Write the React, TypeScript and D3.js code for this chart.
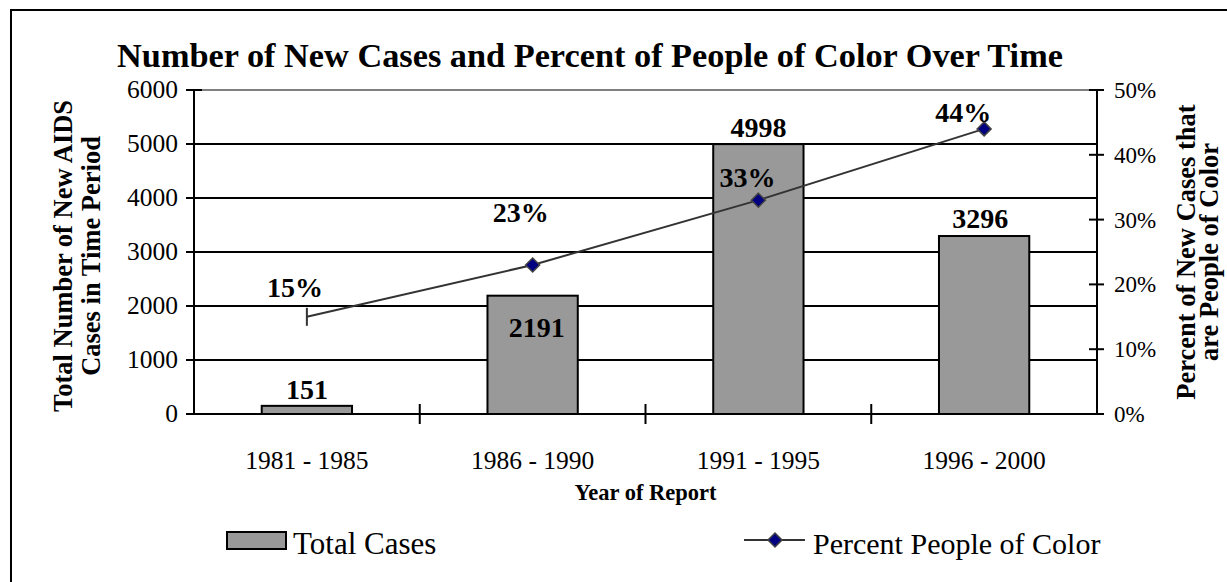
import React from "react";
import * as d3 from "d3";

// Reporting periods and the two series plotted against them
const periods = ["1981 - 1985", "1986 - 1990", "1991 - 1995", "1996 - 2000"];
const totalCases = [151, 2191, 4998, 3296];
const percentPOC = [0.15, 0.23, 0.33, 0.44];

// Axis ticks
const caseTicks = [0, 1000, 2000, 3000, 4000, 5000, 6000];
const pctTicks = [0, 0.1, 0.2, 0.3, 0.4, 0.5];

// Data-label placement relative to each mark (dx, dy)
const caseLabelOffsets: [number, number][] = [[0, -7], [4, 41], [0, -7], [-4, -8]];
const pctLabelOffsets: [number, number][] = [[-12, -20], [-12, -43], [-11, -13], [-21, -7]];

const W = 1227;
const H = 582;
const serif = "'Liberation Serif', 'Times New Roman', serif";

export default function App() {
  const left = 194;
  const right = 1097;
  const top = 90;
  const bottom = 414;

  const x = d3.scaleBand<string>().domain(periods).range([left, right]).padding(0);
  const yL = d3.scaleLinear().domain([0, 6000]).range([bottom, top]);
  const yR = d3.scaleLinear().domain([0, 0.5]).range([bottom, top]);
  const barW = x.bandwidth() * 0.4;
  const cx = (p: string) => (x(p) as number) + x.bandwidth() / 2;

  const line = d3
    .line<number>()
    .x((_, i) => cx(periods[i]))
    .y((d) => yR(d));

  const diamond = (px: number, py: number, r = 7) =>
    `M${px},${py - r}L${px + r},${py}L${px},${py + r}L${px - r},${py}Z`;

  const boundaries = periods.slice(1).map((p) => x(p) as number);
  const midY = (top + bottom) / 2;

  return (
    <svg
      width={W}
      height={H}
      style={{ position: "absolute", left: 0, top: 0, background: "#fff" }}
      fontFamily={serif}
    >
      {/* chart frame */}
      <rect x={11} y={10} width={1400} height={800} fill="none" stroke="#000" strokeWidth={2} />

      <text x={590} y={67} textAnchor="middle" fontSize={34.3} fontWeight="bold">
        Number of New Cases and Percent of People of Color Over Time
      </text>

      {/* horizontal gridlines */}
      {caseTicks.map((t) => (
        <line
          key={"g" + t}
          x1={left}
          x2={right}
          y1={yL(t)}
          y2={yL(t)}
          stroke={t === 6000 ? "#808080" : "#000"}
          strokeWidth={2}
        />
      ))}

      {/* bars */}
      {periods.map((p, i) => (
        <rect
          key={"b" + p}
          x={cx(p) - barW / 2}
          y={yL(totalCases[i])}
          width={barW}
          height={bottom - yL(totalCases[i])}
          fill="#999999"
          stroke="#000"
          strokeWidth={2}
        />
      ))}

      {/* left axis */}
      <line x1={left} x2={left} y1={top} y2={bottom + 1} stroke="#000" strokeWidth={2} />
      {caseTicks.map((t) => (
        <g key={"lt" + t}>
          <line x1={left - 8} x2={left + 8} y1={yL(t)} y2={yL(t)} stroke="#000" strokeWidth={2} />
          <text x={178} y={yL(t) + 8} textAnchor="end" fontSize={25.5}>
            {t}
          </text>
        </g>
      ))}

      {/* right axis */}
      <line x1={right} x2={right} y1={top} y2={bottom + 1} stroke="#000" strokeWidth={2} />
      {pctTicks.map((t) => (
        <g key={"rt" + t}>
          <line x1={right - 8} x2={right + 7} y1={yR(t)} y2={yR(t)} stroke="#000" strokeWidth={2} />
          <text x={right + 17} y={yR(t) + 8} textAnchor="start" fontSize={23}>
            {d3.format(".0%")(t)}
          </text>
        </g>
      ))}

      {/* category boundary ticks */}
      {boundaries.map((bx) => (
        <line key={"ct" + bx} x1={bx} x2={bx} y1={bottom - 10} y2={bottom + 10} stroke="#000" strokeWidth={2} />
      ))}
      <line x1={left - 8} x2={right} y1={bottom} y2={bottom} stroke="#000" strokeWidth={2} />

      {/* category labels */}
      {periods.map((p) => (
        <text key={"cl" + p} x={cx(p)} y={469} textAnchor="middle" fontSize={25.5}>
          {p}
        </text>
      ))}
      <text x={(left + right) / 2} y={500} textAnchor="middle" fontSize={22.5} fontWeight="bold">
        Year of Report
      </text>

      {/* axis titles */}
      <text
        transform={`translate(72,${midY + 4}) rotate(-90)`}
        textAnchor="middle"
        fontSize={26.5}
        fontWeight="bold"
      >
        Total Number of New AIDS
      </text>
      <text
        transform={`translate(100,${midY + 4}) rotate(-90)`}
        textAnchor="middle"
        fontSize={26.5}
        fontWeight="bold"
      >
        Cases in Time Period
      </text>
      <text
        transform={`translate(1195,${midY}) rotate(-90)`}
        textAnchor="middle"
        fontSize={26.5}
        fontWeight="bold"
      >
        Percent of New Cases that
      </text>
      <text
        transform={`translate(1218,${midY}) rotate(-90)`}
        textAnchor="middle"
        fontSize={26.5}
        fontWeight="bold"
      >
        are People of Color
      </text>

      {/* percent line */}
      <path d={line(percentPOC) || ""} fill="none" stroke="#333333" strokeWidth={2} />
      {percentPOC.map((v, i) =>
        i === 0 ? (
          <line
            key={"m" + i}
            x1={cx(periods[i])}
            x2={cx(periods[i])}
            y1={yR(v) - 9}
            y2={yR(v) + 9}
            stroke="#333333"
            strokeWidth={2}
          />
        ) : (
          <path key={"m" + i} d={diamond(cx(periods[i]), yR(v))} fill="#000080" stroke="#444444" strokeWidth={1.5} />
        )
      )}

      {/* bar value labels */}
      {periods.map((p, i) => (
        <text
          key={"bl" + p}
          x={cx(p) + caseLabelOffsets[i][0]}
          y={yL(totalCases[i]) + caseLabelOffsets[i][1]}
          textAnchor="middle"
          fontSize={28}
          fontWeight="bold"
        >
          {totalCases[i]}
        </text>
      ))}

      {/* percent value labels */}
      {periods.map((p, i) => (
        <text
          key={"pl" + p}
          x={cx(p) + pctLabelOffsets[i][0]}
          y={yR(percentPOC[i]) + pctLabelOffsets[i][1]}
          textAnchor="middle"
          fontSize={28}
          fontWeight="bold"
        >
          {d3.format(".0%")(percentPOC[i])}
        </text>
      ))}

      {/* legend */}
      <rect x={227} y={532} width={59} height={17} fill="#999999" stroke="#000" strokeWidth={2} />
      <text x={293} y={554} fontSize={31}>
        Total Cases
      </text>
      <line x1={744} x2={805} y1={540} y2={540} stroke="#333333" strokeWidth={2} />
      <path d={diamond(775, 540)} fill="#000080" stroke="#444444" strokeWidth={1.5} />
      <text x={813} y={554} fontSize={30}>
        Percent People of Color
      </text>
    </svg>
  );
}
